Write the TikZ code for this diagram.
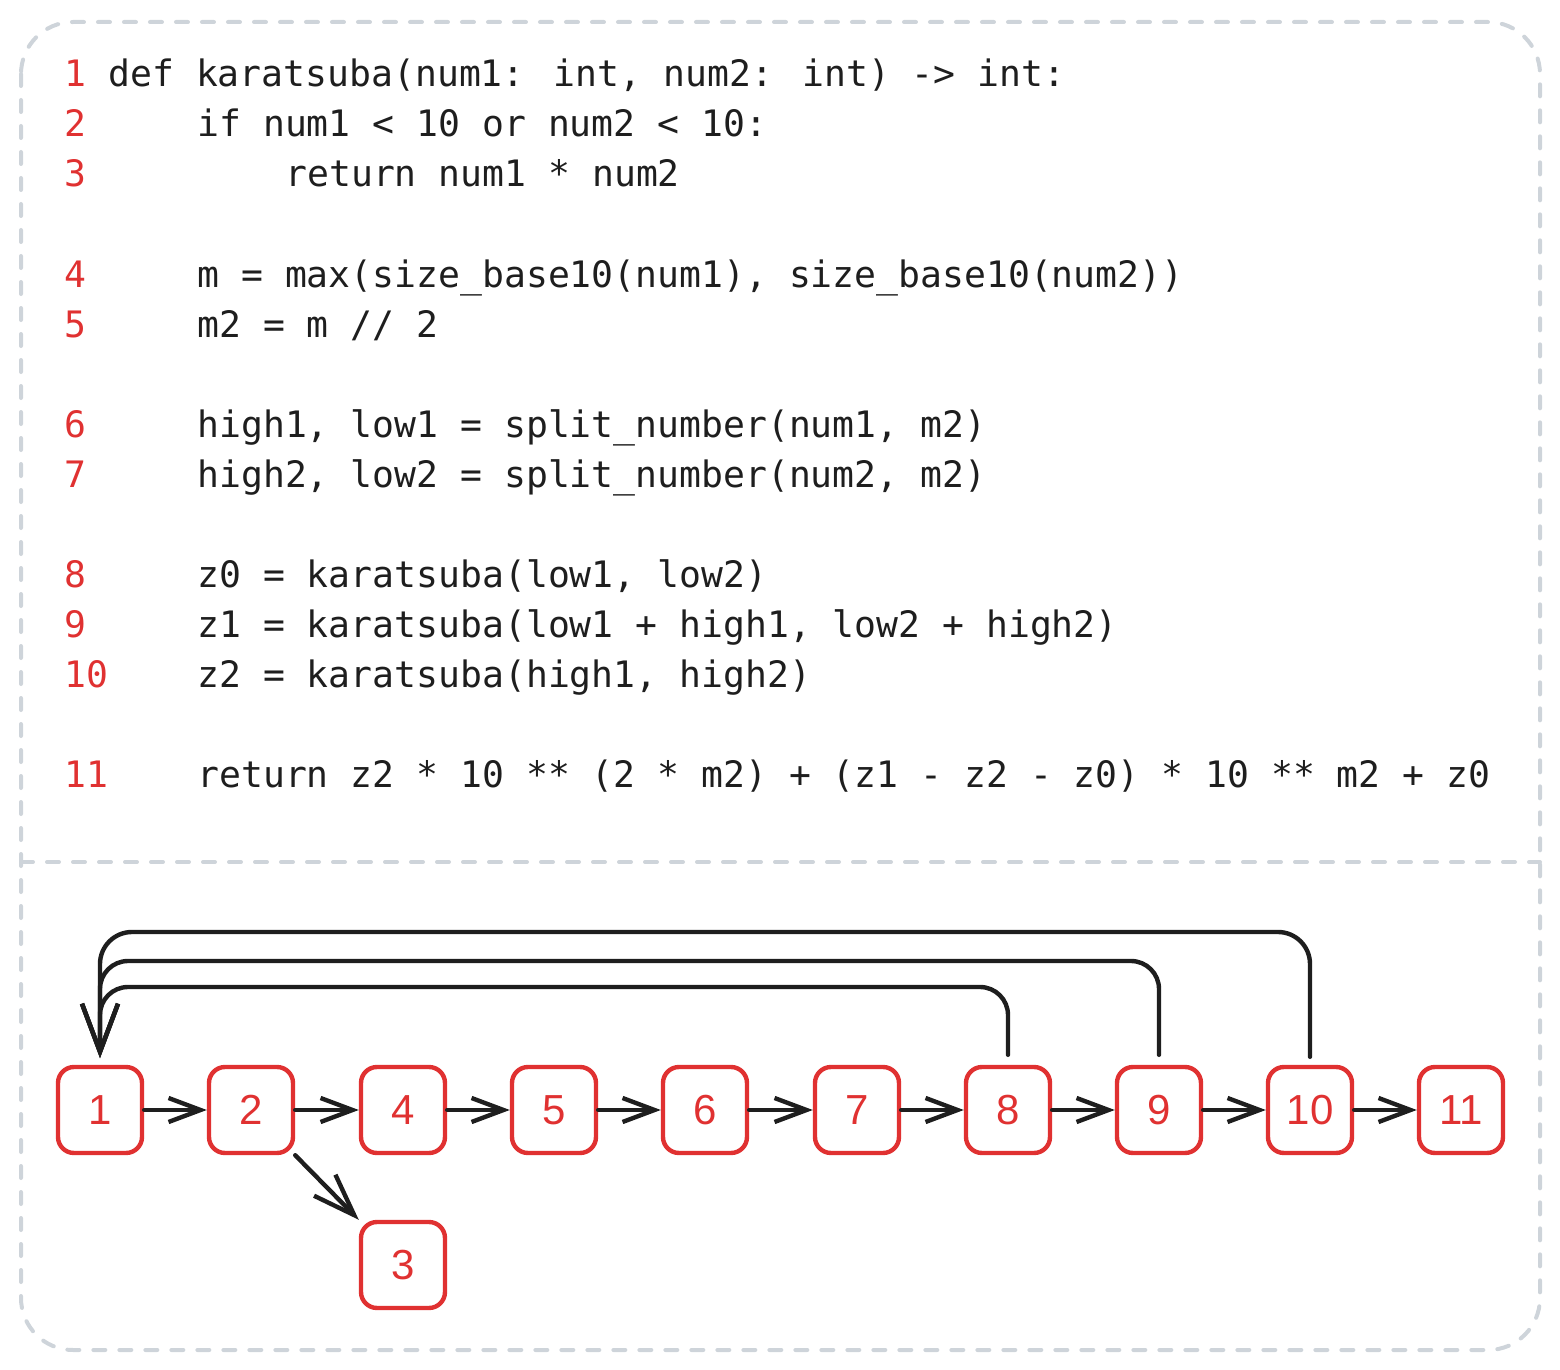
\documentclass[tikz,border=0pt]{standalone}
\usepackage{fontspec}
\setmainfont{Liberation Sans}
\newfontfamily\codefont{DejaVu Sans Mono}
\usetikzlibrary{arrows.meta}
\definecolor{exred}{HTML}{E03131}
\definecolor{exblack}{HTML}{1E1E1E}
\definecolor{exgray}{HTML}{CED4DA}
\tikzset{
  frame/.style={draw=exgray, line width=2pt, dash pattern=on 6pt off 7pt, line cap=round},
  boxnode/.style={draw=exred, line width=2.2pt, rounded corners=8pt, minimum width=42pt, minimum height=43pt, text=exred, font=\fontsize{21}{21}\selectfont, inner sep=0pt},
  conn/.style={draw=exblack, line width=2.2pt, line cap=round, -{Straight Barb[length=16pt,width=12pt,line width=2.2pt]}},
  diag/.style={draw=exblack, line width=2.2pt, line cap=round, -{Straight Barb[length=21pt,width=15pt,line width=2.2pt]}},
  back/.style={draw=exblack, line width=2.2pt, line cap=round, rounded corners=14pt, -{Straight Barb[length=24pt,width=18pt,line width=2.2pt]}},
  lnum/.style={anchor=base west, inner sep=0pt, text=exred, font=\codefont\fontsize{18.2}{18.2}\selectfont},
  code/.style={anchor=base west, inner sep=0pt, text=exblack, font=\codefont\fontsize{18.2}{18.2}\selectfont}
}
\begin{document}
\begin{tikzpicture}[x=0.5pt,y=-0.5pt]
\useasboundingbox (0,0) rectangle (1560,1370);
% frame
\draw[frame, rounded corners=26pt] (21,22) rectangle (1540,1350);
\draw[frame] (21,862) -- (1540,862);
% code
\node[lnum] (l1) at (64,87) {1};
\node[code] (c1) at (108,87) {def karatsuba(num1: int, num2: int) -> int:};
\node[lnum] (l2) at (64,137) {2};
\node[code] (c2) at (197,137) {if num1 < 10 or num2 < 10:};
\node[lnum] (l3) at (64,187) {3};
\node[code] (c3) at (285,187) {return num1 * num2};
\node[lnum] (l4) at (64,287) {4};
\node[code] (c4) at (197,287) {m = max(size\_base10(num1), size\_base10(num2))};
\node[lnum] (l5) at (64,337) {5};
\node[code] (c5) at (197,337) {m2 = m // 2};
\node[lnum] (l6) at (64,437) {6};
\node[code] (c6) at (197,437) {high1, low1 = split\_number(num1, m2)};
\node[lnum] (l7) at (64,487) {7};
\node[code] (c7) at (197,487) {high2, low2 = split\_number(num2, m2)};
\node[lnum] (l8) at (64,587) {8};
\node[code] (c8) at (197,587) {z0 = karatsuba(low1, low2)};
\node[lnum] (l9) at (64,637) {9};
\node[code] (c9) at (197,637) {z1 = karatsuba(low1 + high1, low2 + high2)};
\node[lnum] (l10) at (64,687) {10};
\node[code] (c10) at (197,687) {z2 = karatsuba(high1, high2)};
\node[lnum] (l11) at (64,787) {11};
\node[code] (c11) at (197,787) {return z2 * 10 ** (2 * m2) + (z1 - z2 - z0) * 10 ** m2 + z0};
% graph nodes
\node[boxnode] (n1) at (100,1110) {1};
\node[boxnode] (n2) at (251,1110) {2};
\node[boxnode] (n4) at (403,1110) {4};
\node[boxnode] (n5) at (554,1110) {5};
\node[boxnode] (n6) at (705,1110) {6};
\node[boxnode] (n7) at (857,1110) {7};
\node[boxnode] (n8) at (1008,1110) {8};
\node[boxnode] (n9) at (1159,1110) {9};
\node[boxnode] (n10) at (1310,1110) {10};
\node[boxnode] (n11) at (1461,1110) {11};
\node[boxnode] (n3) at (403,1265) {3};
% chain
\draw[conn] (n1) -- (n2);
\draw[conn] (n2) -- (n4);
\draw[conn] (n4) -- (n5);
\draw[conn] (n5) -- (n6);
\draw[conn] (n6) -- (n7);
\draw[conn] (n7) -- (n8);
\draw[conn] (n8) -- (n9);
\draw[conn] (n9) -- (n10);
\draw[conn] (n10) -- (n11);
\draw[diag] (n2.south east) -- (n3.north west);
% back edges
\coordinate (t1) at (100,1058);
\draw[back] ([yshift=5pt]n8.north) -- (1008,987) -- (100,987) -- (t1);
\draw[back] ([yshift=5pt]n9.north) -- (1159,961) -- (100,961) -- (t1);
\draw[back, rounded corners=16pt] ([yshift=4pt]n10.north) -- (1310,932) -- (100,932) -- (t1);
\end{tikzpicture}
\end{document}
